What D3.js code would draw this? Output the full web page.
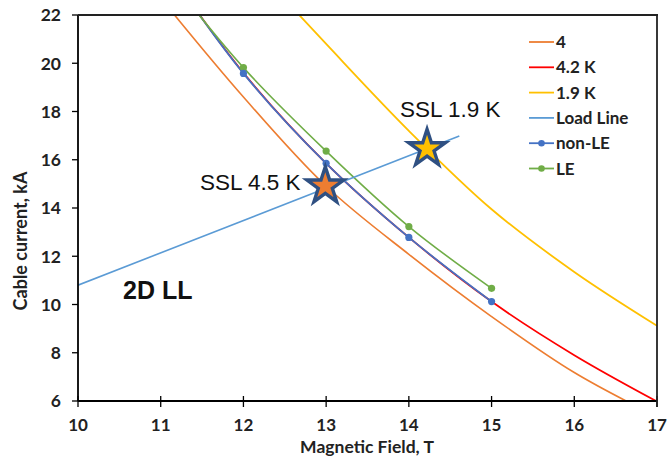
<!DOCTYPE html>
<html><head><meta charset="utf-8">
<script src="https://cdn.jsdelivr.net/npm/d3@7"></script>
<style>
body{margin:0;background:#fff;}
svg{display:block;}
</style></head>
<body><svg id="chart" width="667" height="467"></svg>
<script>
// ---- data ----
const xTicks = [10, 11, 12, 13, 14, 15, 16, 17];
const yTicks = [6, 8, 10, 12, 14, 16, 18, 20, 22];
const fieldX = [11, 12, 13, 14, 15, 16, 17];
const curve4 = [22.7, 18.6, 14.9, 12.08, 9.5, 7.18, 5.35];
const curve42 = [24.3, 19.6, 15.85, 12.78, 10.12, 7.9, 5.98];
const yellowX = [12, 13, 14, 15, 16, 17];
const curve19 = [24.5, 20.8, 17.2, 13.95, 11.35, 9.12];
const nonLEX = [11, 12, 13, 14, 15];
const nonLE = [24.3, 19.58, 15.85, 12.78, 10.12];
const LEX = [11, 12, 13, 14, 15];
const LE = [24.0, 19.82, 16.36, 13.23, 10.67];
const loadX = [10, 14.61];
const loadY = [10.8, 16.98];
const starX = [12.99, 14.22];
const starY = [14.91, 16.46];
const starLabels = ["SSL 4.5 K", "SSL 1.9 K"];
const legendNames = ["4", "4.2 K", "1.9 K", "Load Line", "non-LE", "LE"];

// ---- layout ----
const svg = d3.select("#chart");
const L = 78, R = 657, T = 15, B = 401;
const x = d3.scaleLinear().domain([10, 17]).range([L, R]);
const y = d3.scaleLinear().domain([6, 22]).range([B, T]);

const colors = {c4:"#ED7D31", c42:"#FF0000", c19:"#FFC000", load:"#5B9BD5", nonLE:"#4472C4", LE:"#70AD47"};
const tickFont = "Lato, 'Open Sans', sans-serif";

svg.append("defs").append("clipPath").attr("id","clip")
  .append("rect").attr("x",L).attr("y",T).attr("width",R-L).attr("height",B-T);

const g = svg.append("g").attr("clip-path","url(#clip)");
const line = d3.line().x(d=>x(d[0])).y(d=>y(d[1])).curve(d3.curveCatmullRom.alpha(0.5));

function series(xs, ys, color, width){
  g.append("path").datum(xs.map((v,i)=>[v, ys[i]]))
   .attr("d", line).attr("fill","none").attr("stroke",color).attr("stroke-width",width);
}
series(fieldX, curve4, colors.c4, 1.6);
series(fieldX, curve42, colors.c42, 1.8);
series(yellowX, curve19, colors.c19, 1.8);
series(nonLEX, nonLE, colors.nonLE, 1.8);
series(LEX, LE, colors.LE, 1.6);

// markers
function markers(xs, ys, color){
  g.selectAll(null).data(xs.map((v,i)=>[v, ys[i]])).enter().append("circle")
   .attr("cx",d=>x(d[0])).attr("cy",d=>y(d[1])).attr("r",3.6).attr("fill",color);
}
markers(LEX, LE, colors.LE);
markers(nonLEX, nonLE, colors.nonLE);

// load line
g.append("path").datum(loadX.map((v,i)=>[v, loadY[i]]))
 .attr("d", d3.line().x(d=>x(d[0])).y(d=>y(d[1])))
 .attr("fill","none").attr("stroke",colors.load).attr("stroke-width",1.6);

// axes
const xAxisG = svg.append("g").attr("transform",`translate(0,${B})`);
xAxisG.append("line").attr("x1",L).attr("x2",R).attr("stroke","#000").attr("stroke-width",1.8);
xAxisG.selectAll(null).data(xTicks).enter().append("line")
  .attr("x1",d=>x(d)).attr("x2",d=>x(d)).attr("y1",-5).attr("y2",6).attr("stroke","#000").attr("stroke-width",1.3);
xAxisG.selectAll(null).data(xTicks).enter().append("text")
  .attr("x",d=>x(d)).attr("y",30).attr("text-anchor","middle")
  .style("font-family",tickFont).style("font-weight","700").style("font-size","17px").attr("fill","#222")
  .text(d=>d);

const yAxisG = svg.append("g").attr("transform",`translate(${L},0)`);
yAxisG.append("line").attr("y1",T).attr("y2",B).attr("stroke","#000").attr("stroke-width",1.8);
yAxisG.selectAll(null).data(yTicks).enter().append("line")
  .attr("y1",d=>y(d)).attr("y2",d=>y(d)).attr("x1",-6).attr("x2",0).attr("stroke","#000").attr("stroke-width",1.3);
yAxisG.selectAll(null).data(yTicks).enter().append("text")
  .attr("x",-17).attr("y",d=>y(d)).attr("dy","0.36em").attr("text-anchor","end")
  .style("font-family",tickFont).style("font-weight","700").style("font-size","17.5px").attr("fill","#222")
  .text(d=>d);

// frame top/right
svg.append("line").attr("x1",L).attr("x2",R+1).attr("y1",T).attr("y2",T).attr("stroke","#222").attr("stroke-width",1.8);
svg.append("line").attr("x1",R).attr("x2",R).attr("y1",T).attr("y2",B+6).attr("stroke","#222").attr("stroke-width",1.8);

// axis titles
svg.append("text").attr("x",367).attr("y",453).attr("text-anchor","middle")
  .style("font-family",tickFont).style("font-weight","700").style("font-size","17.5px").attr("fill","#222")
  .text("Magnetic Field, T");
svg.append("text").attr("transform","translate(27,241) rotate(-90)").attr("text-anchor","middle")
  .style("font-family",tickFont).style("font-weight","700").style("font-size","18px").attr("fill","#222")
  .text("Cable current, kA");

// stars
const star = d3.symbol().type(d3.symbolStar).size(420);
const starFill = [colors.c4, colors.c19];
svg.selectAll(null).data(starX.map((v,i)=>[v, starY[i], starFill[i]])).enter().append("path")
  .attr("d", star).attr("transform",d=>`translate(${x(d[0])},${y(d[1])})`)
  .attr("fill",d=>d[2]).attr("stroke","#2F5082").attr("stroke-width",3.4).attr("stroke-linejoin","miter");

// annotations
svg.append("text").attr("x",200).attr("y",190)
  .style("font-family","'Liberation Sans', Arial, sans-serif").style("font-size","22.5px").attr("fill","#111")
  .text(starLabels[0]);
svg.append("text").attr("x",400).attr("y",117)
  .style("font-family","'Liberation Sans', Arial, sans-serif").style("font-size","22.5px").attr("fill","#111")
  .text(starLabels[1]);
svg.append("text").attr("x",123).attr("y",299)
  .style("font-family","'Liberation Sans', Arial, sans-serif").style("font-weight","700").style("font-size","25px").attr("fill","#111")
  .text("2D LL");

// legend
const legColors = [colors.c4, colors.c42, colors.c19, colors.load, colors.nonLE, colors.LE];
const legMarker = [false,false,false,false,true,true];
const leg = svg.append("g");
legendNames.forEach((name,i)=>{
  const cy = 42 + i*25.3;
  leg.append("line").attr("x1",529).attr("x2",554).attr("y1",cy).attr("y2",cy)
    .attr("stroke",legColors[i]).attr("stroke-width",1.8);
  if(legMarker[i]) leg.append("circle").attr("cx",541.5).attr("cy",cy).attr("r",3.3).attr("fill",legColors[i]);
  leg.append("text").attr("x",556).attr("y",cy).attr("dy","0.36em")
    .style("font-family",tickFont).style("font-weight","700").style("font-size","17px").attr("fill","#222")
    .text(name);
});
</script></body></html>
